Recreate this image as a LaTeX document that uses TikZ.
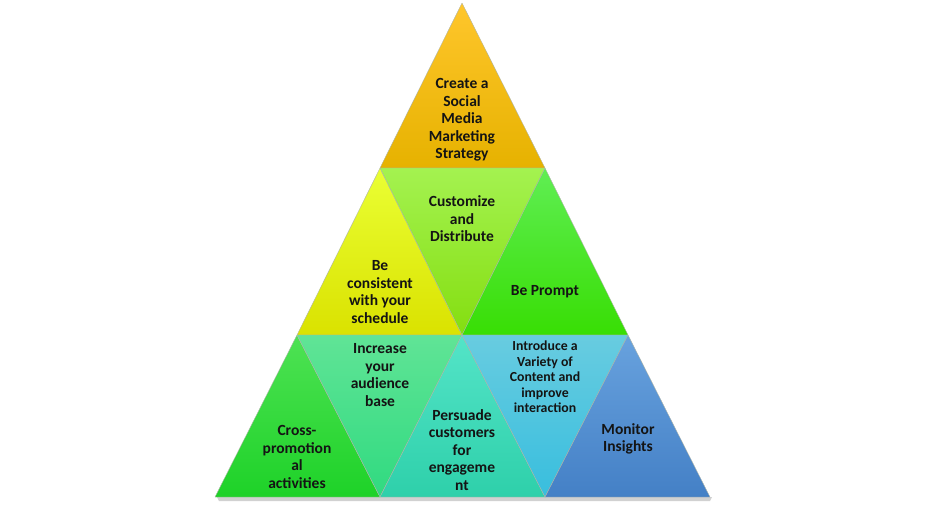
\documentclass[tikz,border=0pt]{standalone}
\usepackage{fontspec}
\setmainfont{Carlito}
\usetikzlibrary{positioning}
\definecolor{ink}{RGB}{20,20,20}
\definecolor{edge}{RGB}{120,130,110}

\begin{document}
\begin{tikzpicture}[x=1pt,y=-1pt,
     lbl/.style={font=\bfseries\fontsize{15.5}{17.6}\selectfont,text=ink,align=center,inner sep=0pt},
     small/.style={font=\bfseries\fontsize{13.8}{15.5}\selectfont,text=ink,align=center,inner sep=0pt},
     tri/.style={draw=edge!60,line width=0.4pt,line join=round}]
    \useasboundingbox (0,0) rectangle (926,512);
    % soft shadow under the base
    \fill[black!18] (217,497) -- (712,497) -- (710,501) -- (219,501) -- cycle;
    % top
    \shade[tri,top color={rgb,255:red,255;green,198;blue,44},bottom color={rgb,255:red,230;green,178;blue,0}]
        (462,3) -- (545,168) -- (380,168) -- cycle;
    % second row
    \shade[tri,top color={rgb,255:red,234;green,255;blue,52},bottom color={rgb,255:red,218;green,226;blue,0}]
        (380,168) -- (462,335) -- (297,335) -- cycle;
    \shade[tri,top color={rgb,255:red,164;green,242;blue,80},bottom color={rgb,255:red,132;green,222;blue,16}]
        (380,168) -- (545,168) -- (462,335) -- cycle;
    \shade[tri,top color={rgb,255:red,96;green,238;blue,84},bottom color={rgb,255:red,56;green,222;blue,4}]
        (545,168) -- (628,335) -- (462,335) -- cycle;
    % bottom row
    \shade[tri,top color={rgb,255:red,78;green,226;blue,84},bottom color={rgb,255:red,30;green,210;blue,40}]
        (297,335) -- (380,497) -- (215,497) -- cycle;
    \shade[tri,top color={rgb,255:red,96;green,228;blue,150},bottom color={rgb,255:red,48;green,218;blue,128}]
        (297,335) -- (462,335) -- (380,497) -- cycle;
    \shade[tri,top color={rgb,255:red,84;green,228;blue,200},bottom color={rgb,255:red,46;green,208;blue,170}]
        (462,335) -- (545,497) -- (380,497) -- cycle;
    \shade[tri,top color={rgb,255:red,104;green,204;blue,224},bottom color={rgb,255:red,56;green,190;blue,222}]
        (462,335) -- (628,335) -- (545,497) -- cycle;
    \shade[tri,top color={rgb,255:red,104;green,162;blue,222},bottom color={rgb,255:red,68;green,128;blue,198}]
        (628,335) -- (710,497) -- (545,497) -- cycle;

    \node[lbl] (strat) at (462,120) {Create a\\Social\\Media\\Marketing\\Strategy};
    \node[lbl] (cust)  at (462,219) {Customize\\and\\Distribute};
    \node[lbl] (cons)  at (380,292) {Be\\consistent\\with your\\schedule};
    \node[lbl] (prompt) at (545,292) {Be Prompt};
    \node[lbl] (aud)   at (380,375) {Increase\\your\\audience\\base};
    \node[lbl] (cross) at (297,457) {Cross-\\promotion\\al\\activities};
    \node[lbl] (pers)  at (462,450) {Persuade\\customers\\for\\engageme\\nt};
    \node[small] (intro) at (545,377) {Introduce a\\Variety of\\Content and\\improve\\interaction};
    \node[lbl] (mon)   at (628,439) {Monitor\\Insights};
  \end{tikzpicture}
\end{document}
